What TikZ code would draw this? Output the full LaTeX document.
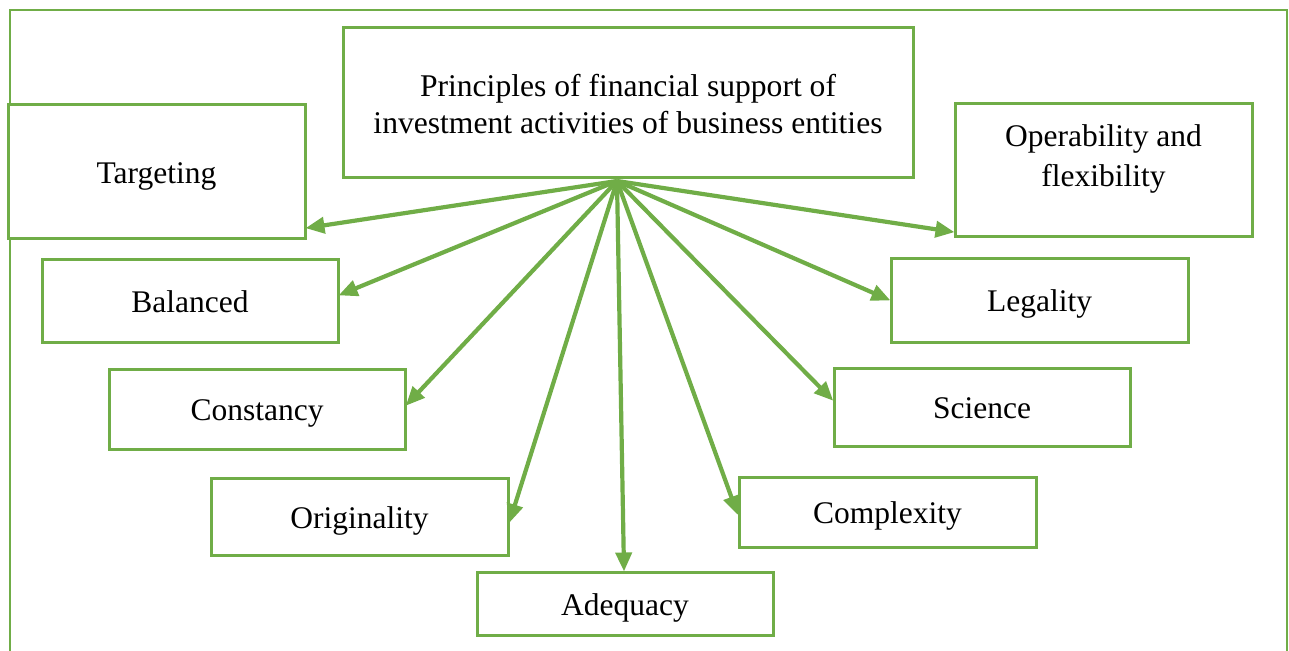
\documentclass[tikz,border=0pt]{standalone}
\usepackage{fontspec}
\setmainfont{Liberation Serif}
\usetikzlibrary{arrows.meta}
\definecolor{grn}{HTML}{70AD47}
\begin{document}
\begin{tikzpicture}[x=1pt,y=-1pt,
  box/.style={draw=grn,line width=3pt,fill=white,inner sep=0pt,
    font=\fontsize{31.5}{40}\selectfont},
  one/.style={box,text height=25pt,text depth=2pt},
  arr/.style={draw=grn,line width=4.2pt,-{Triangle[length=19pt,width=16pt]},shorten >=-1pt},
  frame/.style={draw=grn,line width=2.8pt}]
\useasboundingbox (0,0) rectangle (1289,650);
\draw[frame] (10,652) -- (10,10) -- (1287,10) -- (1287,652);
\node[box,minimum width=570pt,minimum height=149pt,font=\fontsize{31.6}{37}\selectfont] (main) at (628,102.5)
  {\raisebox{-11.5pt}[0pt][0pt]{\begin{tabular}{@{}c@{}}Principles of financial support of\\investment activities of business entities\end{tabular}}};
\node[one,minimum width=297pt,minimum height=133pt] (targ) at (156.5,171.5) {Targeting};
\node[box,minimum width=297pt,minimum height=132pt] (oper) at (1103.5,170)
  {\raisebox{5pt}[0pt][0pt]{\begin{tabular}{@{}c@{}}Operability and\\flexibility\end{tabular}}};
\node[one,minimum width=296pt,minimum height=83pt] (bal) at (190,300.5) {Balanced};
\node[one,minimum width=297pt,minimum height=84pt] (leg) at (1039.5,300) {Legality};
\node[one,minimum width=296pt,minimum height=80pt] (cons) at (257,409) {Constancy};
\node[one,minimum width=296pt,minimum height=78pt] (sci) at (982,407) {Science};
\node[one,minimum width=297pt,minimum height=77pt] (orig) at (359.5,516.5) {Originality};
\node[one,minimum width=297pt,minimum height=70pt] (comp) at (887.5,512) {Complexity};
\node[one,minimum width=296pt,minimum height=63pt] (adeq) at (625,603.5) {Adequacy};
\coordinate (hub) at (617,181);
\draw[arr] (hub) -- ([yshift=-56.5pt]targ.east);
\draw[arr] (hub) -- ([yshift=-62pt]oper.west);
\draw[arr] (hub) -- ([yshift=5.5pt]bal.east);
\draw[arr] (hub) -- (leg.west);
\draw[arr] (hub) -- ([yshift=4pt]cons.east);
\draw[arr] (hub) -- ([yshift=7pt]sci.west);
\draw[arr] (hub) -- ([yshift=-5.5pt]orig.east);
\draw[arr] (hub) -- ([yshift=-2pt]comp.west);
\draw[arr] (hub) -- ([xshift=-1pt]adeq.north);
\end{tikzpicture}
\end{document}
